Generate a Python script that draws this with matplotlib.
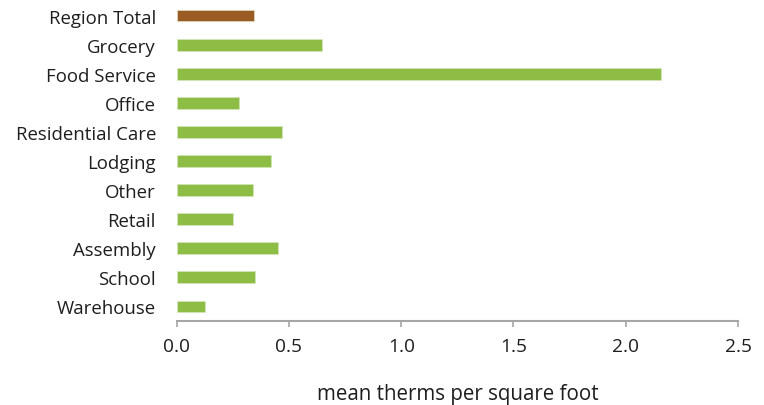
import matplotlib.pyplot as plt

# mean gas use intensity by building type
categories = ['Region Total', 'Grocery', 'Food Service', 'Office', 'Residential Care',
              'Lodging', 'Other', 'Retail', 'Assembly', 'School', 'Warehouse']
therms_per_sqft = [0.345, 0.645, 2.158, 0.277, 0.469, 0.418, 0.338, 0.252, 0.452, 0.348, 0.127]
xticks = [0.0, 0.5, 1.0, 1.5, 2.0, 2.5]

green, brown, axis_gray, text = '#8dbd45', '#9c5b25', '#a6a6a6', '#1e1e1e'
colors = [brown] + [green] * (len(categories) - 1)

plt.rcParams['font.family'] = ['Open Sans', 'DejaVu Sans']

fig = plt.figure(figsize=(7.64, 4.06), dpi=100)
ax = fig.add_axes([0.2313, 0.2076, 0.7347, 0.7867])

ypos = list(range(len(categories)))
ax.barh(ypos, therms_per_sqft, height=0.39, color=colors,
        edgecolor='#d8e8c0', linewidth=0.4)

ax.set_ylim(len(categories) - 0.5, -0.5)
ax.set_xlim(0, 2.5)
ax.set_yticks(ypos)
ax.set_yticklabels(categories, fontsize=13.4, color=text)
ax.tick_params(axis='y', length=0, pad=15)

ax.set_xticks(xticks)
ax.set_xticklabels([f'{t:.1f}' for t in xticks], fontsize=13.8, color=text)
ax.tick_params(axis='x', length=4, width=1.2, color=axis_gray, pad=8)
ax.set_xlabel('mean therms per square foot', fontsize=14.8, color=text, labelpad=20)

for side in ['top', 'right', 'left']:
    ax.spines[side].set_visible(False)
ax.spines['bottom'].set_color(axis_gray)
ax.spines['bottom'].set_linewidth(1.5)

fig.savefig('out.png', dpi=100, facecolor='white')
plt.close(fig)
